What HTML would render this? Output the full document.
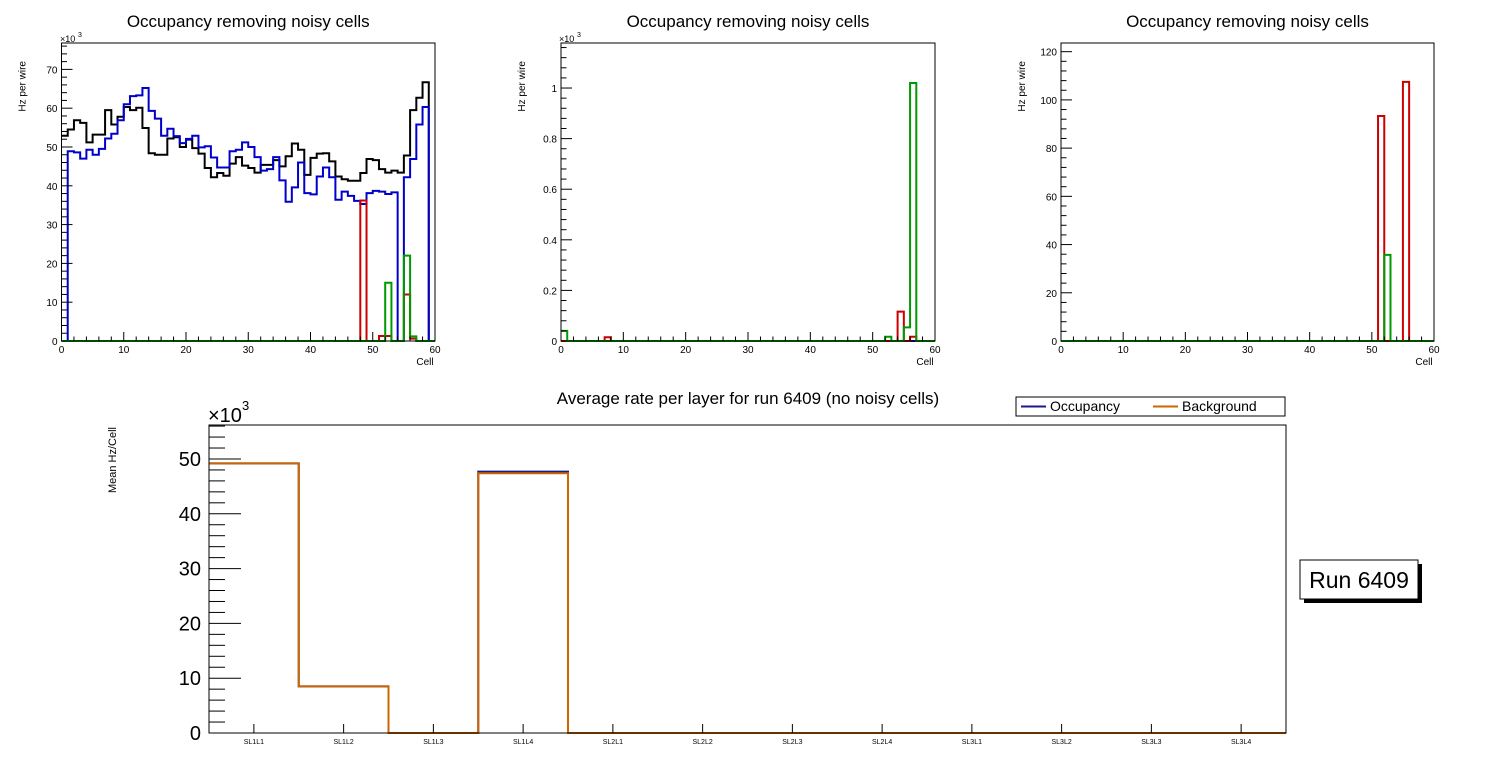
<!DOCTYPE html>
<html><head><meta charset="utf-8"><style>
html,body{margin:0;padding:0;background:#fff;}
svg{display:block;font-family:"Liberation Sans",Arial,sans-serif;}
</style></head><body>
<svg id="c" width="1496" height="772" viewBox="0 0 1496 772" xmlns="http://www.w3.org/2000/svg">
<rect width="1496" height="772" fill="#fff"/>
</svg>
<script>
// ---------- data ----------
const p1Black = [52.9,54.5,56.9,56.2,51.2,53.2,53.2,59.5,55.8,57.8,60.3,59.5,60.1,54.9,48.4,48.0,48.0,52.2,52.5,50.0,51.9,49.7,48.3,44.6,42.2,43.3,42.6,45.7,47.4,45.2,44.6,43.4,45.4,45.4,46.6,45.0,47.6,50.9,49.3,42.8,47.2,48.3,48.4,46.3,42.4,41.7,41.3,41.3,43.3,46.9,46.6,44.3,43.4,43.9,43.4,47.8,59.5,62.7,66.7,0];
const p1Blue = [0,48.9,48.6,47.0,49.3,48.0,49.5,52.2,53.4,56.9,61.0,63.1,63.3,65.2,59.3,57.3,52.9,54.7,52.8,51.0,52.1,52.9,49.9,50.2,47.3,44.7,44.7,48.9,49.3,51.2,50.0,47.4,43.9,44.3,47.4,41.4,35.9,39.6,46.0,38.1,37.8,42.4,44.7,42.2,36.4,38.5,37.4,36.1,35.3,38.1,38.7,38.5,37.9,38.3,0,42.2,46.9,55.8,60.3,0];
const p1RedBins = [48,51,52,55,56];
const p1RedVals = [36.2,1.3,1.3,12,0.6];
const p1GreenBins = [52,55,56];
const p1GreenVals = [15,22,1.2];
const p2RedBins = [7,54,56];
const p2RedVals = [0.015,0.116,0.017];
const p2GreenBins = [0,52,55,56];
const p2GreenVals = [0.04,0.017,0.054,1.02];
const p3RedBins = [51,55];
const p3RedVals = [93.3,107.5];
const p3GreenBins = [52];
const p3GreenVals = [35.7];
const layerCats = ["SL1L1","SL1L2","SL1L3","SL1L4","SL2L1","SL2L2","SL2L3","SL2L4","SL3L1","SL3L2","SL3L3","SL3L4"];
const occVals = [49.2,8.5,0,47.7,0,0,0,0,0,0,0,0];
const bkgVals = [49.2,8.5,0,47.4,0,0,0,0,0,0,0,0];
const p1YTicks = [0,10,20,30,40,50,60,70];
const p2YTicks = [0,0.2,0.4,0.6,0.8,1];
const p2YLabels = ["0","0.2","0.4","0.6","0.8","1"];
const p3YTicks = [0,20,40,60,80,100,120];
const xTicks = [0,10,20,30,40,50,60];
const bYTicks = [0,10,20,30,40,50];

const NS="http://www.w3.org/2000/svg";
const svg=document.getElementById('c');
function el(tag,attrs,parent,text){const e=document.createElementNS(NS,tag);for(const k in attrs)e.setAttribute(k,attrs[k]);if(text!==undefined)e.textContent=text;(parent||svg).appendChild(e);return e;}

function full(bins,vals){const a=new Array(60).fill(0);bins.forEach((b,i)=>a[b]=vals[i]);return a;}
function histPath(vals,xs,ys){
  let d='M'+xs(0)+','+ys(vals[0]);
  for(let i=0;i<vals.length;i++){d+=' V'+ys(vals[i])+' H'+xs(i+1);}
  d+=' V'+ys(0);return d;
}

function panel(name,x0,x1,y0,y1,ymax,yt,ylab,minorStep,series,title){
  const g=el('g',{});
  
  
  const xs=v=>x0+(x1-x0)*v/60;
  const ys=v=>y0-(y0-y1)*v/ymax;
  const t=el('text',{x:(x0+x1)/2,y:27,'font-size':17,'text-anchor':'middle'},g,title);
  
  
  series.forEach(s=>{
    const p=el('path',{d:histPath(s.v,xs,ys),fill:'none',stroke:s.c,'stroke-width':2},g);
    
    
  });
  const f=el('rect',{x:x0,y:y1,width:x1-x0,height:y0-y1,fill:'none',stroke:'#000','stroke-width':1},g);
  
  
  for(let v=0;v<=ymax+1e-9;v+=minorStep){
    const major=yt.some(m=>Math.abs(m-v)<minorStep/10);
    el('line',{x1:x0,x2:x0+(major?11:5.5),y1:ys(v),y2:ys(v),stroke:'#000'},g);
  }
  yt.forEach((v,i)=>{
    const l=el('text',{x:x0-4,y:ys(v)+4,'font-size':10,'text-anchor':'end'},g,ylab[i]);
    
    
  });
  for(let v=0;v<=60;v+=2){
    const major=v%10===0;
    el('line',{x1:xs(v),x2:xs(v),y1:y0,y2:y0-(major?9:4.5),stroke:'#000'},g);
  }
  xTicks.forEach(v=>{
    const l=el('text',{x:xs(v),y:y0+12,'font-size':10,'text-anchor':'middle'},g,String(v));
    
    
  });
  const xt=el('text',{x:x1-10,y:y0+24,'font-size':10,'text-anchor':'middle'},g,'Cell');
  
  
  const yt2=el('text',{x:0,y:0,'font-size':10,'text-anchor':'end',transform:'translate('+(x0-36)+','+(y1+18)+') rotate(-90)'},g,'Hz per wire');
  
  
  return {g,xs,ys};
}

const P1=panel('panel-1',61.5,435,341,43,76.8,p1YTicks,p1YTicks.map(String),2,[
  {v:p1Black,c:'#000',n:'series-black'},
  {v:p1Blue,c:'#0000cc',n:'series-blue'},
  {v:full(p1RedBins,p1RedVals),c:'#cc0000',n:'series-red'},
  {v:full(p1GreenBins,p1GreenVals),c:'#009900',n:'series-green'}
],'Occupancy removing noisy cells');
el('text',{x:60,y:42,'font-size':9},P1.g,'×10');
el('text',{x:78,y:37,'font-size':7},P1.g,'3');

const P2=panel('panel-2',561,935,341,43,1.178,p2YTicks,p2YLabels,0.04,[
  {v:new Array(60).fill(0),c:'#0000cc',n:'series-blue'},
  {v:full(p2RedBins,p2RedVals),c:'#cc0000',n:'series-red'},
  {v:full(p2GreenBins,p2GreenVals),c:'#009900',n:'series-green'}
],'Occupancy removing noisy cells');
el('text',{x:559,y:42,'font-size':9},P2.g,'×10');
el('text',{x:577,y:37,'font-size':7},P2.g,'3');

const P3=panel('panel-3',1061,1434,341,43,123.6,p3YTicks,p3YTicks.map(String),4,[
  {v:new Array(60).fill(0),c:'#0000cc',n:'series-blue'},
  {v:full(p3RedBins,p3RedVals),c:'#cc0000',n:'series-red'},
  {v:full(p3GreenBins,p3GreenVals),c:'#009900',n:'series-green'}
],'Occupancy removing noisy cells');

// ---------- bottom panel ----------
(function(){
  const x0=209,x1=1286,y0=733,y1=425,ymax=56.2;
  const g=el('g',{});
  
  
  const n=layerCats.length,bw=(x1-x0)/n;
  const xs=i=>x0+bw*i;
  const ys=v=>y0-(y0-y1)*v/ymax;
  const t=el('text',{x:748,y:404,'font-size':17,'text-anchor':'middle'},g,'Average rate per layer for run 6409 (no noisy cells)');
  
  
  const po=el('path',{d:histPath(occVals,xs,ys),fill:'none',stroke:'#1a1a8c','stroke-width':2},g);
  
  
  const pb=el('path',{d:histPath(bkgVals,xs,ys),fill:'none',stroke:'#cc6600','stroke-width':2},g);
  
  
  const f=el('rect',{x:x0,y:y1,width:x1-x0,height:y0-y1,fill:'none',stroke:'#000'},g);
  
  
  for(let v=0;v<=ymax;v+=2){
    const major=v%10===0;
    el('line',{x1:x0,x2:x0+(major?32:16),y1:ys(v),y2:ys(v),stroke:'#000'},g);
  }
  bYTicks.forEach(v=>{
    const l=el('text',{x:201,y:ys(v)+7,'font-size':20,'text-anchor':'end'},g,String(v));
    
    
  });
  layerCats.forEach((c,i)=>{
    el('line',{x1:xs(i+0.5),x2:xs(i+0.5),y1:y0,y2:y0-9,stroke:'#000'},g);
    const l=el('text',{x:xs(i+0.5),y:y0+11,'font-size':7,'text-anchor':'middle'},g,c);
    
    
  });
  el('text',{x:208,y:422,'font-size':20},g,'×10');
  el('text',{x:242,y:410,'font-size':13},g,'3');
  const yt=el('text',{x:0,y:0,'font-size':11,'text-anchor':'middle',transform:'translate(116,460) rotate(-90)'},g,'Mean Hz/Cell');
  
  
  const lg=el('g',{},g);
  
  
  el('rect',{x:1016,y:397,width:269,height:19,fill:'#fff',stroke:'#000'},lg);
  el('line',{x1:1021,x2:1046,y1:406.5,y2:406.5,stroke:'#1a1a8c','stroke-width':2},lg);
  const e1=el('text',{x:1050,y:411,'font-size':14},lg,'Occupancy');
  
  
  el('line',{x1:1153,x2:1178,y1:406.5,y2:406.5,stroke:'#cc6600','stroke-width':2},lg);
  const e2=el('text',{x:1182,y:411,'font-size':14},lg,'Background');
  
  
  const rb=el('g',{},g);
  
  
  el('rect',{x:1304,y:564,width:118,height:39,fill:'#000'},rb);
  el('rect',{x:1300,y:560,width:118,height:39,fill:'#fff',stroke:'#000'},rb);
  el('text',{x:1359,y:588,'font-size':23,'text-anchor':'middle'},rb,'Run 6409');
})();
</script>
</body></html>
